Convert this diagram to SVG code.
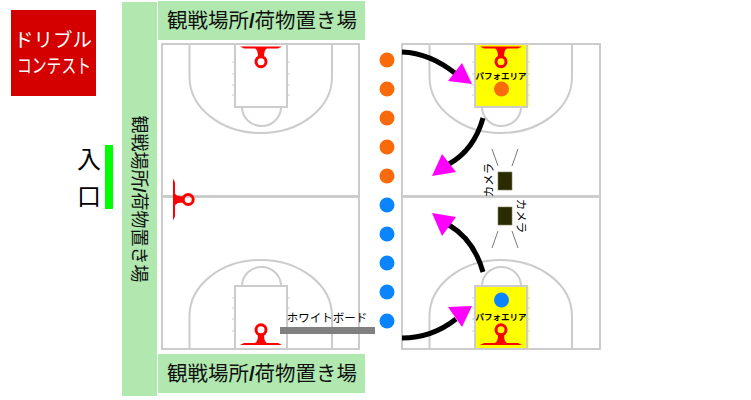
<svg xmlns="http://www.w3.org/2000/svg" xmlns:xlink="http://www.w3.org/1999/xlink" width="751" height="400" viewBox="0 0 751 400">
<style>
text{font-family:"Noto Sans CJK JP","Noto Sans",sans-serif;fill:#111}
.band{fill:#b0e8b0}
.hdr{font-size:20.500px;text-anchor:middle}
.side{font-size:18px;text-anchor:middle}
.slash{font-weight:700;font-family:"Liberation Sans",sans-serif}
.ln{fill:none;stroke:#ccc;stroke-width:2}
.outer{fill:none;stroke:#ccc;stroke-width:2}
.tick{stroke:#ddd;stroke-width:1.5}
.hoop{fill:none;stroke:#f00;stroke-width:3}
.hoopf{fill:#f00}
.perf{font-size:8.500px;font-weight:700;text-anchor:middle;fill:#000}
.cam{fill:#2b2b00;stroke:#7d7d60;stroke-width:.6}
.ray{stroke:#555;stroke-width:.8}
.camt{font-size:11.500px;text-anchor:middle;fill:#000}
.flow{fill:none;stroke:#000;stroke-width:5}
.head{fill:#f0f}
.o{fill:#f96a0a}.b{fill:#0a84ff}
.ttl{font-size:19.500px;text-anchor:middle;fill:#fff;font-weight:400}
</style>
<defs>
<g id="halfTop">
<path class="ln" d="M189.500 45V77A71.250 56 0 0 0 332 77V45"/>
<path class="ln" d="M242 107A19.500 19 0 0 0 281 107"/>
<path class="tick" d="M232 62h2.500M232 74h2.500M232 85h2.500M232 95h2.500M287.500 62h2.500M287.500 74h2.500M287.500 85h2.500M287.500 95h2.500"/>
</g>
<g id="keyTop"><rect class="ln" x="235" y="44" width="52" height="63"/></g>
<g id="hoop">
<path class="hoopf" d="M-21 -1H21L17 1H6Q3 2 3 10H-3Q-3 2 -6 1H-17Z"/>
<circle class="hoop" cx="0" cy="14.200" r="5"/>
</g>
</defs>

<g id="title"><rect x="11" y="10" width="85" height="86" fill="#d40000"/>
<text class="ttl" x="53" y="47">ドリブル</text>
<text class="ttl" x="54" y="73" textLength="74" lengthAdjust="spacingAndGlyphs">コンテスト</text></g>

<g id="entrance"><rect x="105" y="145" width="8" height="64" fill="#0f0"/>
<text x="89" y="168" style="font-size:24px;text-anchor:middle;fill:#000">入</text>
<text x="89" y="205" style="font-size:24px;text-anchor:middle;fill:#000">口</text></g>

<g id="spectator-left"><rect class="band" x="122" y="2" width="35" height="394"/>
<text class="side" transform="translate(133 199) rotate(90)">観戦場所<tspan class="slash">/</tspan>荷物置き場</text></g>
<g id="spectator-top"><rect class="band" x="158" y="1" width="207" height="39"/>
<text class="hdr" x="262" y="28">観戦場所<tspan class="slash">/</tspan>荷物置き場</text></g>
<g id="spectator-bottom"><rect class="band" x="158" y="354" width="207" height="39"/>
<text class="hdr" x="262" y="381">観戦場所<tspan class="slash">/</tspan>荷物置き場</text></g>

<g id="court-left">
<rect class="outer" x="162" y="44" width="197" height="152"/>
<rect class="outer" x="162" y="197" width="197" height="152"/>
<use xlink:href="#halfTop"/><use xlink:href="#keyTop"/>
<g transform="translate(0 393) scale(1 -1)"><use xlink:href="#halfTop"/><use xlink:href="#keyTop"/></g>
<use xlink:href="#hoop" transform="translate(261 47.500)"/>
<use xlink:href="#hoop" transform="translate(261 344) scale(1 -1)"/>
<use id="side-hoop" xlink:href="#hoop" transform="translate(174 199.500) rotate(-90)"/>
</g>

<g id="court-right">
<rect class="outer" x="402" y="44" width="198" height="152"/>
<rect class="outer" x="402" y="197" width="198" height="152"/>
<g transform="translate(240 0)"><use xlink:href="#halfTop"/><rect x="235" y="44" width="53.500" height="63" fill="#ff0"/><use xlink:href="#keyTop"/></g>
<g transform="translate(240 393) scale(1 -1)"><use xlink:href="#halfTop"/><rect x="235" y="44" width="53.500" height="63" fill="#ff0"/><use xlink:href="#keyTop"/></g>
<use xlink:href="#hoop" transform="translate(501 47.500)"/>
<use xlink:href="#hoop" transform="translate(501 344) scale(1 -1)"/>
<text class="perf" x="501" y="79">パフォエリア</text>
<text class="perf" x="501" y="320">パフォエリア</text>
<circle class="o" cx="501.500" cy="89" r="7.500"/>
<circle class="b" cx="501.500" cy="300" r="7.500"/>
</g>

<g id="camera-top"><rect class="cam" x="498" y="172" width="14" height="18"/>
<path class="ray" d="M498 166L492 149M512 166L518 149"/>
<text class="camt" transform="translate(492.500 180) rotate(-90)">カメラ</text></g>
<g id="camera-bottom"><rect class="cam" x="498" y="207" width="14" height="18"/>
<path class="ray" d="M498 231L492 248M512 231L518 248"/>
<text class="camt" transform="translate(517 216) rotate(90)">カメラ</text></g>

<g id="whiteboard"><rect x="280" y="327" width="95" height="7" fill="#808080"/>
<text x="327" y="322" style="font-size:11.500px;text-anchor:middle;fill:#000">ホワイトボード</text></g>

<g id="players">
<circle class="o" cx="387" cy="60" r="7.500"/><circle class="o" cx="387" cy="89" r="7.500"/><circle class="o" cx="387" cy="118" r="7.500"/><circle class="o" cx="387" cy="147" r="7.500"/><circle class="o" cx="387" cy="176" r="7.500"/>
<circle class="b" cx="387" cy="205" r="7.500"/><circle class="b" cx="387" cy="234" r="7.500"/><circle class="b" cx="387" cy="263" r="7.500"/><circle class="b" cx="387" cy="292" r="7.500"/><circle class="b" cx="387" cy="321" r="7.500"/>
</g>

<g id="connectors">
<path class="flow" d="M402 52Q430 53 456 74"/><polygon class="head" points="462,63 472,84 448,81"/>
<path class="flow" d="M483 118Q474 150 449 164"/><polygon class="head" points="442,154 456,172 432,176"/>
<path class="flow" d="M483 272Q474 240 449 225"/><polygon class="head" points="432,213 456,217 442,236"/>
<path class="flow" d="M402 338Q432 338 456 319"/><polygon class="head" points="448,307 472,306 462,327"/>
</g>
</svg>
